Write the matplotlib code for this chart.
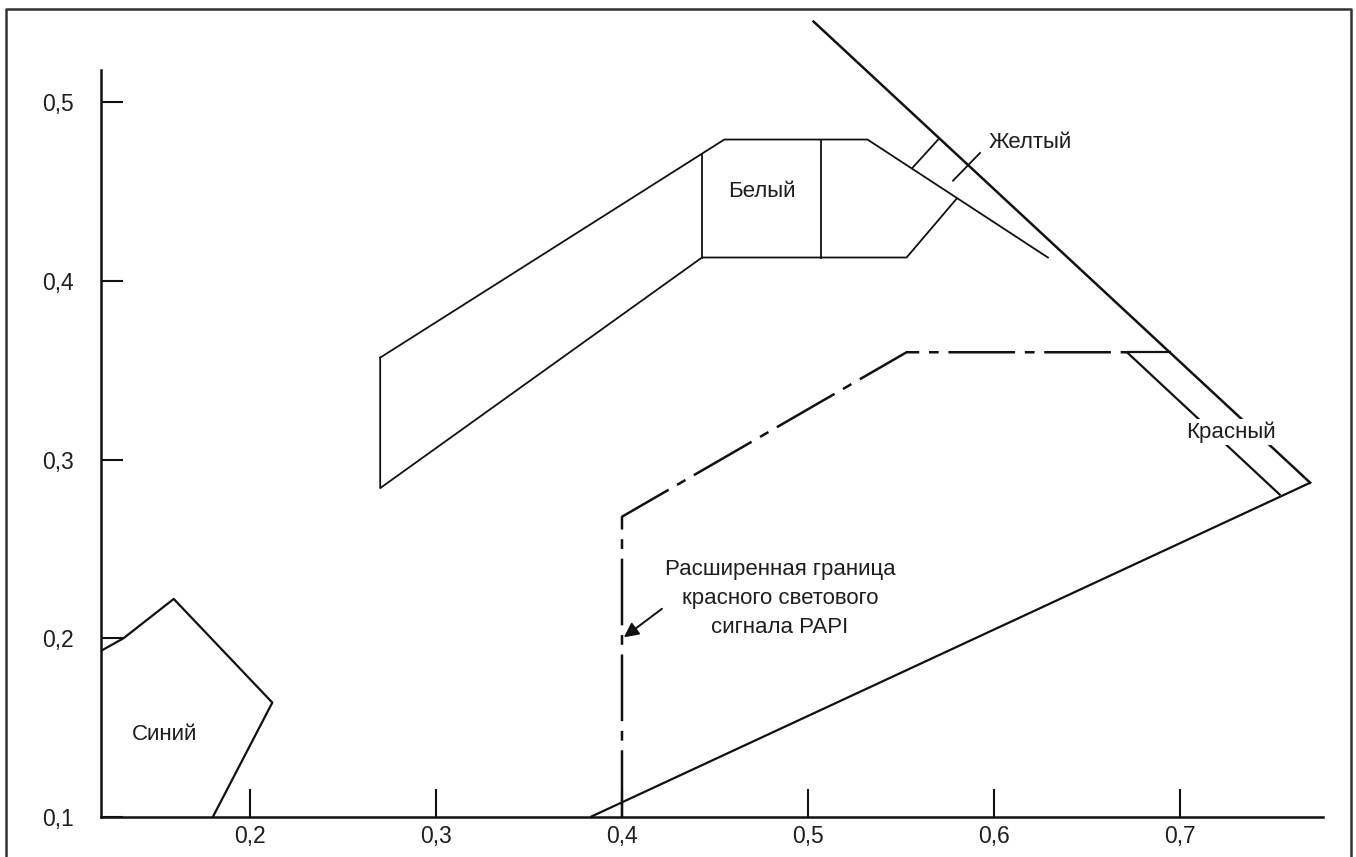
"""plot.py: chromaticity boundaries for aeronautical ground lights"""
import matplotlib
matplotlib.use("Agg")
import matplotlib.pyplot as plt
from matplotlib.lines import Line2D
from matplotlib.ticker import FuncFormatter

plt.rcParams['font.family'] = ['Liberation Sans', 'DejaVu Sans']
plt.rcParams['lines.scale_dashes'] = False

FIG_SIZE = (13.56, 8.57)
DPI = 100
INK = '#111111'
TEXT = '#1e1e1e'
TICK_FONT = 16.5
LABEL_FONT = 16

X_TICKS = [0.2, 0.3, 0.4, 0.5, 0.6, 0.7]
Y_TICKS = [0.1, 0.2, 0.3, 0.4, 0.5]

# blue area, left and bottom edges lie on the axes
BLUE_X = [0.120, 0.132, 0.159, 0.212, 0.180]
BLUE_Y = [0.193, 0.200, 0.222, 0.164, 0.100]

# white area outline
WHITE_UPPER_X = [0.270, 0.455, 0.532, 0.629]
WHITE_UPPER_Y = [0.357, 0.479, 0.479, 0.413]
WHITE_LOWER_X = [0.270, 0.270, 0.443, 0.553, 0.580]
WHITE_LOWER_Y = [0.357, 0.284, 0.413, 0.413, 0.446]
WHITE_LEFT_X = [0.443, 0.443]
WHITE_LEFT_Y = [0.413, 0.471]
WHITE_MID_X = [0.507, 0.507]
WHITE_MID_Y = [0.413, 0.479]

# short yellow cross limits
YELLOW_A_X = [0.556, 0.570]
YELLOW_A_Y = [0.463, 0.479]
YELLOW_B_X = [0.578, 0.5925]
YELLOW_B_Y = [0.456, 0.4715]

# purple boundary and red area
PURPLE_X = [0.503, 0.770]
PURPLE_Y = [0.545, 0.287]
RED_LOWER_X = [0.383, 0.770]
RED_LOWER_Y = [0.100, 0.287]
RED_INNER_X = [0.6715, 0.754]
RED_INNER_Y = [0.360, 0.280]
RED_TOP_X = [0.6715, 0.695]
RED_TOP_Y = [0.360, 0.360]

# extended PAPI red boundary (dash-dot)
PAPI_X = [0.400, 0.400, 0.553, 0.6715]
PAPI_Y = [0.100, 0.268, 0.360, 0.360]
PAPI_ARROW_TIP = (0.401, 0.2005)
PAPI_ARROW_TAIL = (0.4215, 0.2165)
PAPI_TEXT = "Расширенная граница\nкрасного светового\nсигнала PAPI"
PAPI_TEXT_POS = (0.485, 0.2225)

LABELS = [
    ("Синий", 0.1543, 0.146, 'center'),
    ("Белый", 0.4753, 0.4497, 'center'),
    ("Желтый", 0.597, 0.4771, 'left'),
]
RED_LABEL = ("Красный", 0.7274, 0.3154)


def comma(value, pos):
    return "{:.1f}".format(value).replace('.', ',')


fig = plt.figure(figsize=FIG_SIZE, dpi=DPI)
ax = fig.add_axes([0.07463, 0.04667, 0.9053, 0.9386])
ax.set_xlim(0.12, 0.78)
ax.set_ylim(0.1, 0.55)

for side in ('top', 'right'):
    ax.spines[side].set_visible(False)
ax.spines['left'].set_bounds(0.1, 0.518)
ax.spines['bottom'].set_bounds(0.12, 0.777)
for side in ('left', 'bottom'):
    ax.spines[side].set_linewidth(1.8)
    ax.spines[side].set_color(INK)

ax.set_xticks(X_TICKS)
ax.set_yticks(Y_TICKS)
ax.xaxis.set_major_formatter(FuncFormatter(comma))
ax.yaxis.set_major_formatter(FuncFormatter(comma))
ax.tick_params(axis='x', direction='in', length=20, width=1.5, pad=6,
               labelsize=TICK_FONT, colors=INK, labelcolor=TEXT)
ax.tick_params(axis='y', direction='in', length=16, width=1.5, pad=20,
               labelsize=TICK_FONT, colors=INK, labelcolor=TEXT)

solid = dict(color=INK, lw=1.6, solid_capstyle='butt')
thin = dict(color=INK, lw=1.3)
ax.plot(BLUE_X, BLUE_Y, **solid)
ax.plot(WHITE_UPPER_X, WHITE_UPPER_Y, **thin)
ax.plot(WHITE_LOWER_X, WHITE_LOWER_Y, **thin)
ax.plot(WHITE_LEFT_X, WHITE_LEFT_Y, **thin)
ax.plot(WHITE_MID_X, WHITE_MID_Y, **thin)
ax.plot(YELLOW_A_X, YELLOW_A_Y, **thin)
ax.plot(YELLOW_B_X, YELLOW_B_Y, **thin)
ax.plot(PURPLE_X, PURPLE_Y, color=INK, lw=1.8)
ax.plot(RED_LOWER_X, RED_LOWER_Y, **solid)
ax.plot(RED_INNER_X, RED_INNER_Y, **solid)
ax.plot(RED_TOP_X, RED_TOP_Y, **solid)
ax.plot(PAPI_X, PAPI_Y, color=INK, lw=1.8,
        linestyle=(0, (48, 7, 7, 7)), dash_capstyle='butt')

for text, x, y, ha in LABELS:
    ax.text(x, y, text, ha=ha, va='center', fontsize=LABEL_FONT, color=TEXT)
ax.text(RED_LABEL[1], RED_LABEL[2], RED_LABEL[0], ha='center', va='center',
        fontsize=LABEL_FONT, color=TEXT,
        bbox=dict(facecolor='white', edgecolor='none', pad=1.5))

ax.text(*PAPI_TEXT_POS, PAPI_TEXT, ha='center', va='center',
        fontsize=LABEL_FONT, color=TEXT, linespacing=1.5)
ax.annotate("", xy=PAPI_ARROW_TIP, xytext=PAPI_ARROW_TAIL,
            arrowprops=dict(arrowstyle='-|>', color=INK, lw=1.4,
                            mutation_scale=22, shrinkA=0, shrinkB=0))

# page frame around the drawing
W, H = 1356.0, 857.0
frame_x = [6 / W, 6 / W, 1351 / W, 1351 / W]
frame_y = [-0.02, 1 - 9 / H, 1 - 9 / H, -0.02]
fig.add_artist(Line2D(frame_x, frame_y, transform=fig.transFigure,
                      color='#333333', lw=1.8))

fig.savefig("out.png", dpi=DPI)
